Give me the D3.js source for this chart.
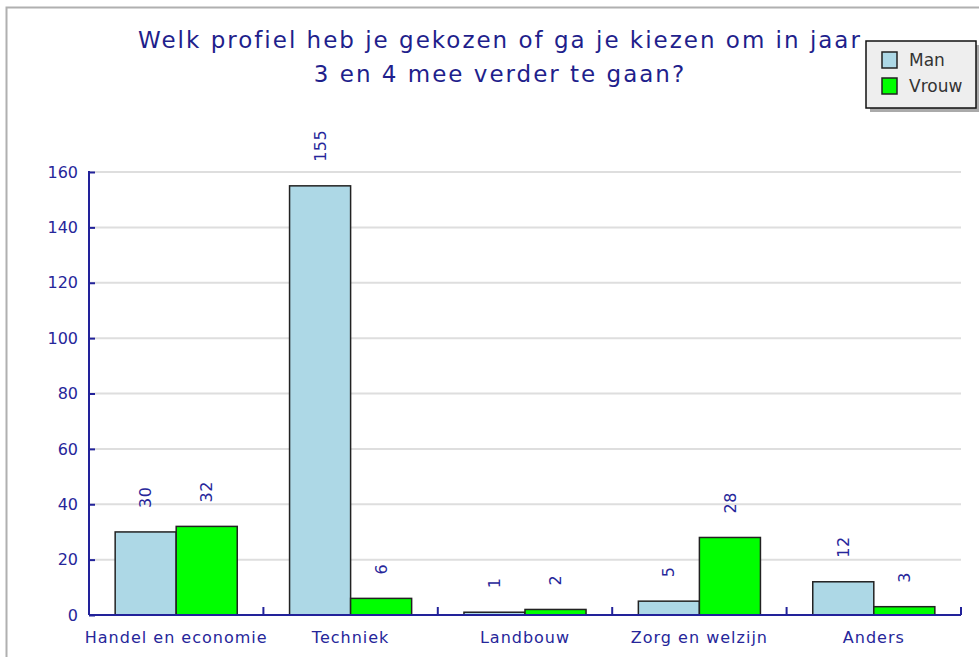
<!DOCTYPE html>
<html lang="nl">
<head>
	<meta charset="utf-8">
	<title>Profielkeuze</title>
	<script src="https://d3js.org/d3.v7.min.js"></script>
	<style type="text/css">
		body { margin: 0; background: #fff; }
		text { font-family: "DejaVu Sans", Verdana, sans-serif; }
		.axis path, .axis line { stroke: #22229a; stroke-width: 2; }
		.axis text { fill: #26269a; font-size: 16px; }
		.xlab { font-size: 17px; letter-spacing: 1px; }
	</style>
</head>
<body>
	<script type="text/javascript">

	// data
	var categories = ["Handel en economie", "Techniek", "Landbouw", "Zorg en welzijn", "Anders"];
	var series = ["Man", "Vrouw"];
	var man = [30, 155, 1, 5, 12];
	var vrouw = [32, 6, 2, 28, 3];
	var yTicks = [0, 20, 40, 60, 80, 100, 120, 140, 160];
	var colors = ["#add8e6", "#00ff00"];

	var w = 979, h = 657;
	var plotLeft = 89, plotRight = 961, plotTop = 172, plotBottom = 615;

	var svg = d3.select("body").append("svg")
		.attr("width", w)
		.attr("height", h);

	// outer frame
	svg.append("rect")
		.attr("x", 6.5).attr("y", 7.5)
		.attr("width", w + 10).attr("height", h + 10)
		.attr("fill", "none")
		.attr("stroke", "#b0b0b0")
		.attr("stroke-width", 2);

	var table = categories.map(function(c, i) {
		return {cat: c, values: [man[i], vrouw[i]]};
	});

	var x0 = d3.scaleBand().domain(categories).range([plotLeft, plotRight]).padding(0);
	var x1 = d3.scaleBand().domain(series)
		.range([x0.bandwidth() * 0.15, x0.bandwidth() * 0.85]).padding(0);
	var y = d3.scaleLinear().domain([0, 160]).range([plotBottom, plotTop]);

	// grid
	svg.append("g")
		.selectAll("line")
		.data(yTicks.slice(1))
		.enter().append("line")
		.attr("x1", plotLeft).attr("x2", plotRight)
		.attr("y1", d => y(d)).attr("y2", d => y(d))
		.attr("stroke", "#dedede")
		.attr("stroke-width", 2);

	// bars
	var groups = svg.append("g")
		.selectAll("g")
		.data(table)
		.enter().append("g")
		.attr("transform", d => "translate(" + x0(d.cat) + ",0)");

	groups.selectAll("rect")
		.data(d => d.values.map((v, i) => ({s: series[i], v: v, i: i})))
		.enter().append("rect")
		.attr("x", d => x1(d.s))
		.attr("y", d => y(d.v))
		.attr("width", x1.bandwidth())
		.attr("height", d => y(0) - y(d.v))
		.attr("fill", d => colors[d.i])
		.attr("stroke", "#222")
		.attr("stroke-width", 1.5);

	// value labels
	groups.selectAll("text")
		.data(d => d.values.map((v, i) => ({s: series[i], v: v})))
		.enter().append("text")
		.attr("transform", d => "translate(" + (x1(d.s) + x1.bandwidth() / 2) + "," + (y(d.v) - 24) + ") rotate(-90)")
		.attr("dy", "0.35em")
		.attr("text-anchor", "start")
		.attr("fill", "#26269a")
		.style("font-size", "16px")
		.style("letter-spacing", "0.5px")
		.text(d => d.v);

	// y axis
	svg.append("g")
		.attr("class", "axis")
		.attr("transform", "translate(" + plotLeft + ",0)")
		.call(d3.axisLeft(y).tickValues(yTicks).tickSizeInner(-6).tickSizeOuter(0).tickPadding(11))
		.select(".domain").attr("d", "M0," + (plotTop - 1) + "V" + plotBottom);

	// x axis
	var xAxis = svg.append("g")
		.attr("class", "axis")
		.attr("transform", "translate(0," + plotBottom + ")");
	xAxis.append("line")
		.attr("x1", plotLeft).attr("x2", plotRight);
	xAxis.selectAll(".tk")
		.data(categories)
		.enter().append("line")
		.attr("x1", d => x0(d) + x0.bandwidth())
		.attr("x2", d => x0(d) + x0.bandwidth())
		.attr("y1", 0).attr("y2", -8);
	xAxis.selectAll("text")
		.data(categories)
		.enter().append("text")
		.attr("class", "xlab")
		.attr("x", d => x0(d) + x0.bandwidth() / 2)
		.attr("y", 28)
		.attr("text-anchor", "middle")
		.text(d => d);

	// title
	var title = svg.append("text")
		.attr("x", 500)
		.attr("y", 48)
		.attr("text-anchor", "middle")
		.attr("fill", "#1f1f8c")
		.style("font-size", "23px")
		.style("letter-spacing", "2px");
	title.append("tspan").attr("x", 500).text("Welk profiel heb je gekozen of ga je kiezen om in jaar");
	title.append("tspan").attr("x", 500).attr("dy", 34).text("3 en 4 mee verder te gaan?");

	// legend
	var lg = svg.append("g").attr("transform", "translate(866,41)");
	lg.append("rect")
		.attr("x", 4).attr("y", 4)
		.attr("width", 110).attr("height", 67)
		.attr("fill", "#aaa");
	lg.append("rect")
		.attr("width", 110).attr("height", 67)
		.attr("fill", "#eeeeee")
		.attr("stroke", "#111")
		.attr("stroke-width", 1.5);
	var items = lg.selectAll(".item")
		.data(series)
		.enter().append("g")
		.attr("transform", (d, i) => "translate(16," + (11 + i * 26) + ")");
	items.append("rect")
		.attr("width", 15).attr("height", 16)
		.attr("fill", (d, i) => colors[i])
		.attr("stroke", "#222")
		.attr("stroke-width", 1.5);
	items.append("text")
		.attr("x", 27).attr("y", 14)
		.attr("fill", "#333")
		.style("font-size", "17px")
		.text(d => d);

	</script>
</body>
</html>
